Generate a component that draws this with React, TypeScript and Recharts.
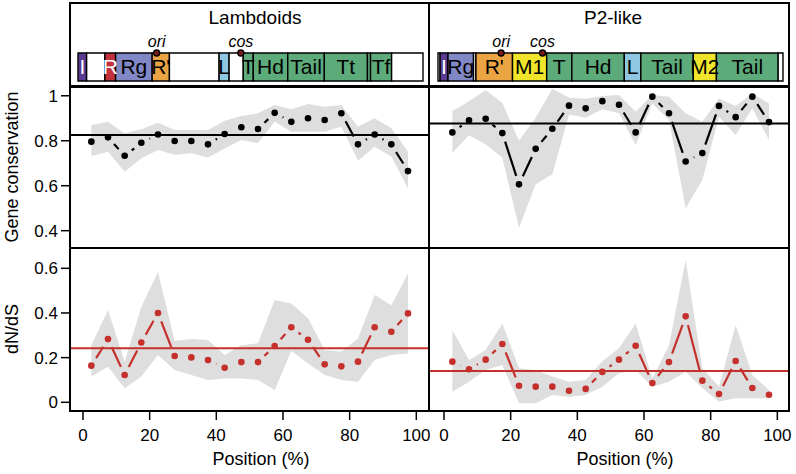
import React from "react";
import {
  ComposedChart,
  Area,
  Bar,
  LabelList,
  Scatter,
  XAxis,
  YAxis,
  ReferenceLine,
  ReferenceDot,
} from "recharts";

// window positions (% of genome)
const positions = [2.5, 7.5, 12.5, 17.5, 22.5, 27.5, 32.5, 37.5, 42.5, 47.5, 52.5, 57.5, 62.5, 67.5, 72.5, 77.5, 82.5, 87.5, 92.5, 97.5];
const xTicks = [0, 20, 40, 60, 80, 100];
const consTicks = [0.4, 0.6, 0.8, 1];
const dndsTicks = [0, 0.2, 0.4, 0.6];

// Lambdoids - gene conservation
const lambdaCons = [0.796, 0.815, 0.733, 0.791, 0.828, 0.799, 0.799, 0.784, 0.83, 0.86, 0.852, 0.924, 0.884, 0.9, 0.892, 0.922, 0.784, 0.828, 0.784, 0.665];
const lambdaConsLo = [0.732, 0.751, 0.662, 0.722, 0.759, 0.738, 0.744, 0.726, 0.766, 0.803, 0.789, 0.884, 0.84, 0.84, 0.84, 0.862, 0.711, 0.773, 0.73, 0.588];
const lambdaConsHi = [0.87, 0.884, 0.833, 0.851, 0.88, 0.848, 0.848, 0.848, 0.889, 0.91, 0.922, 0.959, 0.94, 0.963, 0.951, 0.959, 0.862, 0.9, 0.855, 0.751];
const lambdaConsMean = 0.825;

// P2-like - gene conservation
const p2Cons = [0.837, 0.891, 0.898, 0.834, 0.606, 0.764, 0.853, 0.956, 0.944, 0.976, 0.96, 0.837, 0.996, 0.922, 0.708, 0.745, 0.955, 0.905, 0.996, 0.883];
const p2ConsLo = [0.747, 0.824, 0.784, 0.724, 0.413, 0.606, 0.651, 0.917, 0.902, 0.94, 0.922, 0.781, 0.966, 0.892, 0.5, 0.625, 0.907, 0.825, 0.944, 0.803];
const p2ConsHi = [0.932, 0.976, 1.025, 0.969, 0.8, 0.902, 1.031, 0.991, 0.987, 0.999, 1.003, 0.929, 1.003, 0.996, 0.922, 0.884, 0.988, 0.955, 1.01, 0.966];
const p2ConsMean = 0.877;

// Lambdoids - dN/dS
const lambdaDnds = [0.164, 0.283, 0.122, 0.268, 0.4, 0.207, 0.201, 0.189, 0.155, 0.18, 0.18, 0.252, 0.336, 0.28, 0.17, 0.161, 0.182, 0.336, 0.316, 0.398];
const lambdaDndsLo = [0.115, 0.159, 0.063, 0.115, 0.212, 0.145, 0.122, 0.1, 0.107, 0.107, 0.1, 0.055, 0.23, 0.174, 0.122, 0.1, 0.092, 0.189, 0.212, 0.219];
const lambdaDndsHi = [0.256, 0.413, 0.182, 0.428, 0.584, 0.274, 0.283, 0.279, 0.212, 0.256, 0.264, 0.458, 0.443, 0.376, 0.234, 0.226, 0.286, 0.48, 0.435, 0.577];
const lambdaDndsMean = 0.242;

// P2-like - dN/dS
const p2Dnds = [0.182, 0.148, 0.191, 0.261, 0.074, 0.07, 0.07, 0.052, 0.06, 0.136, 0.191, 0.253, 0.086, 0.18, 0.385, 0.097, 0.037, 0.185, 0.064, 0.034];
const p2DndsLo = [0.047, 0.092, 0.145, 0.167, -0.004, -0.004, 0.033, 0.025, 0.033, 0.07, 0.13, 0.145, 0.07, 0.092, 0.137, 0.063, 0.003, 0.018, 0.018, 0.018];
const p2DndsHi = [0.323, 0.189, 0.234, 0.353, 0.152, 0.145, 0.115, 0.092, 0.1, 0.184, 0.242, 0.353, 0.106, 0.256, 0.637, 0.152, 0.07, 0.346, 0.122, 0.055];
const p2DndsMean = 0.14;

// genome maps (% of genome length)
const lambdaGeneNames = ["I", "R", "Rg", "R'", "L", "T", "Hd", "Tail", "Tt", "", "Tf"];
const lambdaGeneKinds = ["int", "rec", "reg", "rep", "lys", "morph", "morph", "morph", "morph", "morph", "morph"];
const lambdaGeneStart = [0, 7.8, 10.9, 21.5, 40.9, 47.9, 50.8, 60.8, 71.4, 83.9, 84.8];
const lambdaGeneEnd = [2.5, 10.9, 21.5, 26.5, 43.8, 50.8, 60.8, 71.4, 83.9, 84.8, 90.9];
const lambdaOri = 22.8;
const lambdaCos = 47.2;

const p2GeneNames = ["I", "Rg", "R'", "M1", "T", "Hd", "L", "Tail", "M2", "Tail"];
const p2GeneKinds = ["int", "reg", "rep", "moron", "morph", "morph", "lys", "morph", "moron", "morph"];
const p2GeneStart = [0.6, 2.9, 11.0, 21.6, 31.5, 38.8, 54.0, 58.8, 74.0, 80.7];
const p2GeneEnd = [2.9, 10.3, 21.6, 31.5, 38.8, 54.0, 58.8, 74.0, 80.7, 98.6];
const p2Ori = 18.3;
const p2Cos = 30.3;

const KIND_FILL: Record<string, string> = {
  int: "#5b3a91",
  rec: "#c0313b",
  reg: "#8088c5",
  rep: "#eba443",
  lys: "#8fc7e2",
  morph: "#5dab7b",
  moron: "#f1e52c",
  none: "#ffffff",
};
const KIND_TEXT: Record<string, string> = { int: "#ffffff", rec: "#ffffff" };

const RED = "#c4302b";
const FONT = "'Liberation Sans', Arial, Helvetica, sans-serif";
const GENE_FONT = "'Liberation Sans Narrow', 'Arial Narrow', 'Liberation Sans', Arial, sans-serif";
const BAR_HALF = 14;

const makeRows = (vals: number[], lo: number[], hi: number[]) =>
  positions.map((p, i) => ({ pos: p, val: vals[i], band: [lo[i], hi[i]] }));

const GAP = 9;

// R type="b" style: segments between points, shortened at both ends
function GappedLine({ points, color }: { points: { x: number; y: number }[]; color: string }) {
  const segs: React.ReactNode[] = [];
  for (let i = 0; i < points.length - 1; i++) {
    const a = points[i];
    const b = points[i + 1];
    const dx = b.x - a.x;
    const dy = b.y - a.y;
    const len = Math.hypot(dx, dy);
    if (len <= 2 * GAP) continue;
    const ux = dx / len;
    const uy = dy / len;
    segs.push(
      <line
        key={i}
        x1={a.x + ux * GAP}
        y1={a.y + uy * GAP}
        x2={b.x - ux * GAP}
        y2={b.y - uy * GAP}
        stroke={color}
        strokeWidth={2.2}
      />
    );
  }
  return <g>{segs}</g>;
}

interface PanelProps {
  rows: { pos: number; val: number; band: number[] }[];
  mean: number;
  color: string;
  yDomain: [number, number];
  yTicks: number[];
  xDomain: [number, number];
  showY: boolean;
  showX: boolean;
  width: number;
  height: number;
  marginRight: number;
}

function Panel({ rows, mean, color, yDomain, yTicks, xDomain, showY, showX, width, height, marginRight }: PanelProps) {
  return (
    <ComposedChart width={width} height={height} data={rows} margin={{ top: 0, right: marginRight, bottom: 0, left: 0 }}>
      <XAxis
        type="number"
        dataKey="pos"
        domain={xDomain}
        ticks={xTicks}
        interval={0}
        allowDataOverflow
        hide={!showX}
        height={63}
        axisLine={false}
        tickSize={9}
        tickMargin={9}
        tickLine={{ stroke: "#000", strokeWidth: 1.5 }}
        tick={{ fontSize: 17, fill: "#000" }}
      />
      <YAxis
        type="number"
        domain={yDomain}
        ticks={yTicks}
        interval={0}
        allowDataOverflow
        hide={!showY}
        width={70}
        axisLine={false}
        tickSize={9}
        tickMargin={3}
        tickLine={{ stroke: "#000", strokeWidth: 1.5 }}
        tick={{ fontSize: 17, fill: "#000" }}
      />
      <Area
        dataKey="band"
        type="linear"
        stroke="none"
        fill="#dedede"
        fillOpacity={1}
        activeDot={false}
        isAnimationActive={false}
      />
      <ReferenceLine y={mean} stroke={color} strokeWidth={2} />
      <Scatter
        dataKey="val"
        fill={color}
        isAnimationActive={false}
        line={(p: any) => <GappedLine points={p.points} color={color} />}
        shape={(p: any) => <circle cx={p.cx} cy={p.cy} r={3.3} fill={color} />}
      />
    </ComposedChart>
  );
}

interface GeneMapProps {
  names: string[];
  kinds: string[];
  starts: number[];
  ends: number[];
  ori: number;
  cos: number;
  width: number;
  marginLeft: number;
  marginRight: number;
}

function SiteMarker(label: string) {
  return (p: any) => (
    <g>
      <circle cx={p.cx} cy={p.cy - BAR_HALF} r={3} fill="#7a1c1c" stroke="#000" strokeWidth={1.4} />
      <text x={p.cx} y={p.cy - BAR_HALF - 6} textAnchor="middle" fontSize={16} fontStyle="italic" fill="#000">
        {label}
      </text>
    </g>
  );
}

function GeneMap({ names, kinds, starts, ends, ori, cos, width, marginLeft, marginRight }: GeneMapProps) {
  // one stacked row: genes with white spacers between them
  const segs: { key: string; name: string; kind: string; len: number }[] = [];
  let cursor = 0;
  names.forEach((n, i) => {
    if (starts[i] > cursor) segs.push({ key: `gap${i}`, name: "", kind: "none", len: starts[i] - cursor });
    segs.push({ key: `gene${i}`, name: n, kind: kinds[i], len: ends[i] - starts[i] });
    cursor = ends[i];
  });
  if (cursor < 100) segs.push({ key: "gapEnd", name: "", kind: "none", len: 100 - cursor });
  const row: Record<string, string | number> = { track: "genome" };
  segs.forEach((s) => {
    row[s.key] = s.len;
  });

  return (
    <ComposedChart
      layout="vertical"
      width={width}
      height={83}
      data={[row]}
      barCategoryGap={0}
      margin={{ top: 50, right: marginRight, bottom: 5, left: marginLeft }}
    >
      <XAxis type="number" domain={[0, 100]} hide />
      <YAxis type="category" dataKey="track" hide />
      {segs.map((s) => (
        <Bar
          key={s.key}
          dataKey={s.key}
          stackId="map"
          fill={KIND_FILL[s.kind]}
          stroke="#000"
          strokeWidth={1.4}
          isAnimationActive={false}
        >
          {s.name ? (
            <LabelList
              dataKey={s.key}
              position="center"
              formatter={() => s.name}
              fill={KIND_TEXT[s.kind] || "#000"}
              fontSize={21}
              fontFamily={GENE_FONT}
            />
          ) : null}
        </Bar>
      ))}
      <ReferenceDot x={ori} y="genome" r={3} shape={SiteMarker("ori")} />
      <ReferenceDot x={cos} y="genome" r={3} shape={SiteMarker("cos")} />
    </ComposedChart>
  );
}

const box = (left: number, top: number, width: number, height: number): React.CSSProperties => ({
  position: "absolute",
  left,
  top,
  width,
  height,
  border: "2px solid #000",
  boxSizing: "border-box",
  pointerEvents: "none",
});

const textAt = (cx: number, cy: number, size: number, rotate = false): React.CSSProperties => ({
  position: "absolute",
  left: cx - 150,
  top: cy - 12,
  width: 300,
  height: 24,
  lineHeight: "24px",
  textAlign: "center",
  fontSize: size,
  color: "#000",
  whiteSpace: "nowrap",
  transform: rotate ? "rotate(-90deg)" : undefined,
});

export default function App() {
  const consDomain: [number, number] = [0.323, 1.039];
  const dndsDomain: [number, number] = [-0.039, 0.691];
  const leftX: [number, number] = [-3.9, 103.5];
  const rightX: [number, number] = [-4.8, 103.2];

  return (
    <div style={{ position: "absolute", left: 0, top: 0, width: 796, height: 474, background: "#fff", fontFamily: FONT }}>
      {/* genome maps */}
      <div style={{ position: "absolute", left: 70, top: 3 }}>
        <GeneMap
          names={lambdaGeneNames}
          kinds={lambdaGeneKinds}
          starts={lambdaGeneStart}
          ends={lambdaGeneEnd}
          ori={lambdaOri}
          cos={lambdaCos}
          width={358}
          marginLeft={8}
          marginRight={5}
        />
      </div>
      <div style={{ position: "absolute", left: 428, top: 3 }}>
        <GeneMap
          names={p2GeneNames}
          kinds={p2GeneKinds}
          starts={p2GeneStart}
          ends={p2GeneEnd}
          ori={p2Ori}
          cos={p2Cos}
          width={360}
          marginLeft={10}
          marginRight={5}
        />
      </div>

      {/* gene conservation */}
      <div style={{ position: "absolute", left: 0, top: 87 }}>
        <Panel
          rows={makeRows(lambdaCons, lambdaConsLo, lambdaConsHi)}
          mean={lambdaConsMean}
          color="#000"
          yDomain={consDomain}
          yTicks={consTicks}
          xDomain={leftX}
          showY
          showX={false}
          width={430}
          height={161}
          marginRight={2}
        />
      </div>
      <div style={{ position: "absolute", left: 428, top: 87 }}>
        <Panel
          rows={makeRows(p2Cons, p2ConsLo, p2ConsHi)}
          mean={p2ConsMean}
          color="#000"
          yDomain={consDomain}
          yTicks={consTicks}
          xDomain={rightX}
          showY={false}
          showX={false}
          width={368}
          height={161}
          marginRight={8}
        />
      </div>

      {/* dN/dS */}
      <div style={{ position: "absolute", left: 0, top: 248 }}>
        <Panel
          rows={makeRows(lambdaDnds, lambdaDndsLo, lambdaDndsHi)}
          mean={lambdaDndsMean}
          color={RED}
          yDomain={dndsDomain}
          yTicks={dndsTicks}
          xDomain={leftX}
          showY
          showX
          width={430}
          height={226}
          marginRight={2}
        />
      </div>
      <div style={{ position: "absolute", left: 428, top: 248 }}>
        <Panel
          rows={makeRows(p2Dnds, p2DndsLo, p2DndsHi)}
          mean={p2DndsMean}
          color={RED}
          yDomain={dndsDomain}
          yTicks={dndsTicks}
          xDomain={rightX}
          showY={false}
          showX
          width={368}
          height={226}
          marginRight={8}
        />
      </div>

      {/* frames */}
      <div style={box(69, 2, 361, 85)} />
      <div style={box(428, 2, 362, 85)} />
      <div style={box(69, 86, 361, 163)} />
      <div style={box(428, 86, 362, 163)} />
      <div style={box(69, 247, 361, 165)} />
      <div style={box(428, 247, 362, 165)} />

      {/* titles */}
      <div style={textAt(255, 18, 19)}>Lambdoids</div>
      <div style={textAt(613, 18, 19)}>P2-like</div>
      <div style={textAt(12, 167, 18, true)}>Gene conservation</div>
      <div style={textAt(12, 329, 18, true)}>dN/dS</div>
      <div style={textAt(261, 459, 18)}>Position (%)</div>
      <div style={textAt(625, 459, 18)}>Position (%)</div>
    </div>
  );
}
